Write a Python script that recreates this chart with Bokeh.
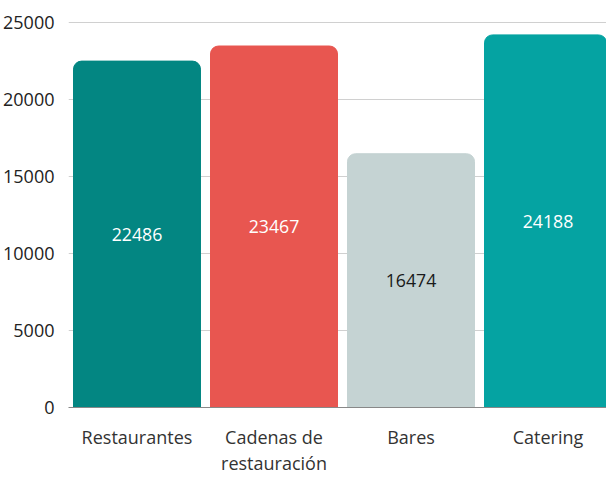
from bokeh.plotting import figure
from bokeh.models import ColumnDataSource, Range1d, FixedTicker
from bokeh.core.properties import value
from bokeh.embed import file_html
from bokeh.resources import INLINE

categories = ["Restaurantes", "Cadenas de\nrestauración", "Bares", "Catering"]
values = [22486, 23467, 16474, 24188]
colors = ["#038682", "#E85650", "#C5D3D3", "#05A3A2"]
label_colors = ["#FFFFFF", "#FFFFFF", "#1A1A1A", "#FFFFFF"]

xs = list(range(len(categories)))
source = ColumnDataSource(dict(
    x=xs, top=values, color=colors, mid=[v / 2 for v in values],
    label=[str(v) for v in values], lcolor=label_colors,
))

p = figure(width=606, height=478, output_backend="svg", toolbar_location=None,
           x_range=Range1d(-0.5, 3.427), y_range=Range1d(0, 26421),
           min_border_left=68, min_border_right=0, min_border_top=0, min_border_bottom=69)
p.outline_line_color = None

p.vbar(x="x", top="top", width=0.927, color="color", source=source,
       border_radius=(8, 8, 0, 0))
p.text(x="x", y="mid", text="label", text_color="lcolor", source=source,
       text_align="center", text_baseline="middle", text_font_size="13.3pt",
       text_font=value("Open Sans"))

p.xgrid.grid_line_color = None
p.ygrid.grid_line_color = "#D0D0D0"
p.yaxis.ticker = FixedTicker(ticks=[0, 5000, 10000, 15000, 20000, 25000])
p.xaxis.ticker = FixedTicker(ticks=xs)
p.xaxis.major_label_overrides = {i: c for i, c in enumerate(categories)}

for ax in (p.xaxis, p.yaxis):
    ax.major_tick_line_color = None
    ax.minor_tick_line_color = None
    ax.major_label_text_font = "Open Sans"
    ax.major_label_text_font_size = "13.5pt"
    ax.major_label_text_color = "#222222"
p.yaxis.axis_line_color = None
p.yaxis.major_label_standoff = 8
p.xaxis.axis_line_color = "#888888"
p.xaxis.major_label_standoff = 11
p.xaxis.major_label_text_line_height = 1.11
p.xaxis.major_label_text_color = "#333333"

open("out.html", "w").write(file_html(p, INLINE))
